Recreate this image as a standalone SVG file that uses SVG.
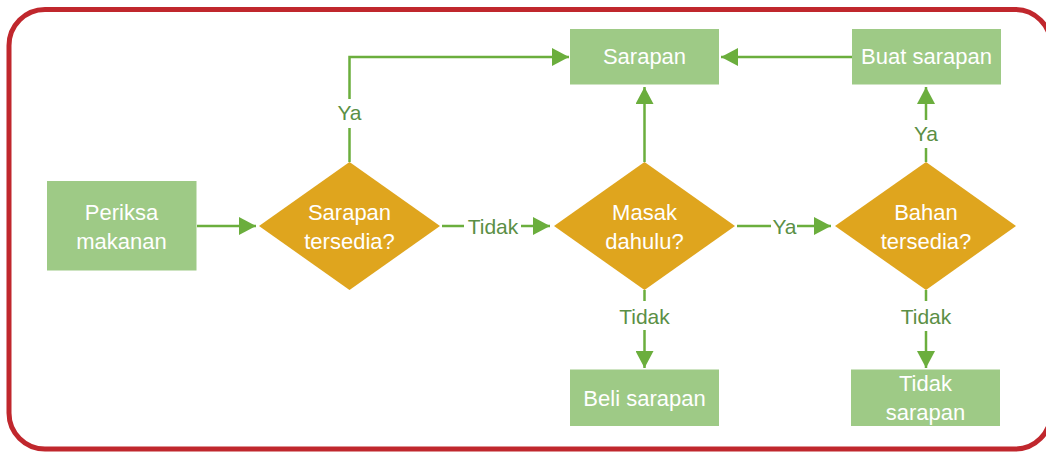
<svg xmlns="http://www.w3.org/2000/svg" width="1046" height="452" viewBox="0 0 1046 452">
<defs>
<style>
.box{fill:#9ECA86}
.dia{fill:#DFA51E}
.nt{font-family:"Liberation Sans",Arial,sans-serif;font-size:22px;fill:#ffffff;text-anchor:middle}
.lbl{font-family:"Liberation Sans",Arial,sans-serif;font-size:21px;fill:#5B8F45;text-anchor:middle}
.ln{fill:none;stroke:#6BAE3D;stroke-width:2.5}
</style>
<marker id="ah" markerWidth="18" markerHeight="18" refX="17" refY="9" orient="auto" markerUnits="userSpaceOnUse">
<path d="M0,0 L17,9 L0,18 Z" fill="#6BAE3D"/>
</marker>
</defs>
<rect x="9" y="9.5" width="1042" height="439.5" rx="36" ry="36" fill="#ffffff" stroke="#C0272D" stroke-width="5"/>
<g id="connectors">
<path class="ln" d="M197,226 H256" marker-end="url(#ah)"/>
<path class="ln" d="M349.5,162 V128"/>
<path class="ln" d="M349.5,99 V57 H569" marker-end="url(#ah)"/>
<text class="lbl" x="349.5" y="120">Ya</text>
<path class="ln" d="M442,226 H464"/>
<path class="ln" d="M521,226 H550" marker-end="url(#ah)"/>
<text class="lbl" x="493" y="234">Tidak</text>
<path class="ln" d="M644.5,162 V87" marker-end="url(#ah)"/>
<path class="ln" d="M737,226 H771"/>
<path class="ln" d="M797,226 H831" marker-end="url(#ah)"/>
<text class="lbl" x="784.5" y="234">Ya</text>
<path class="ln" d="M852,57 H721" marker-end="url(#ah)"/>
<path class="ln" d="M926,162 V148"/>
<path class="ln" d="M926,120 V87" marker-end="url(#ah)"/>
<text class="lbl" x="926" y="141">Ya</text>
<path class="ln" d="M644.5,290 V301"/>
<path class="ln" d="M644.5,330 V368" marker-end="url(#ah)"/>
<text class="lbl" x="644.5" y="324">Tidak</text>
<path class="ln" d="M926,290 V301"/>
<path class="ln" d="M926,331 V368" marker-end="url(#ah)"/>
<text class="lbl" x="926" y="324">Tidak</text>
</g>
<g id="periksa">
<rect class="box" x="47" y="181" width="149.5" height="89.5"/>
<text class="nt" x="121.5" y="220">Periksa</text>
<text class="nt" x="121.5" y="249">makanan</text>
</g>
<g id="d-sarapan-tersedia">
<polygon class="dia" points="349.5,162 440,226 349.5,290 259,226"/>
<text class="nt" x="349.5" y="220">Sarapan</text>
<text class="nt" x="349.5" y="249">tersedia?</text>
</g>
<g id="d-masak">
<polygon class="dia" points="644.5,162 735,226 644.5,290 554,226"/>
<text class="nt" x="644.5" y="220">Masak</text>
<text class="nt" x="644.5" y="249">dahulu?</text>
</g>
<g id="d-bahan">
<polygon class="dia" points="926,162 1016,226 926,290 835,226"/>
<text class="nt" x="926" y="220">Bahan</text>
<text class="nt" x="926" y="249">tersedia?</text>
</g>
<g id="sarapan">
<rect class="box" x="570" y="29" width="149" height="55.5"/>
<text class="nt" x="644.5" y="64">Sarapan</text>
</g>
<g id="buat-sarapan">
<rect class="box" x="852" y="29" width="149" height="55.5"/>
<text class="nt" x="926.5" y="64">Buat sarapan</text>
</g>
<g id="beli-sarapan">
<rect class="box" x="570" y="369.5" width="149" height="56.5"/>
<text class="nt" x="644.5" y="406">Beli sarapan</text>
</g>
<g id="tidak-sarapan">
<rect class="box" x="851" y="369.5" width="149" height="56.5"/>
<text class="nt" x="925.5" y="391">Tidak</text>
<text class="nt" x="925.5" y="420">sarapan</text>
</g>
</svg>
